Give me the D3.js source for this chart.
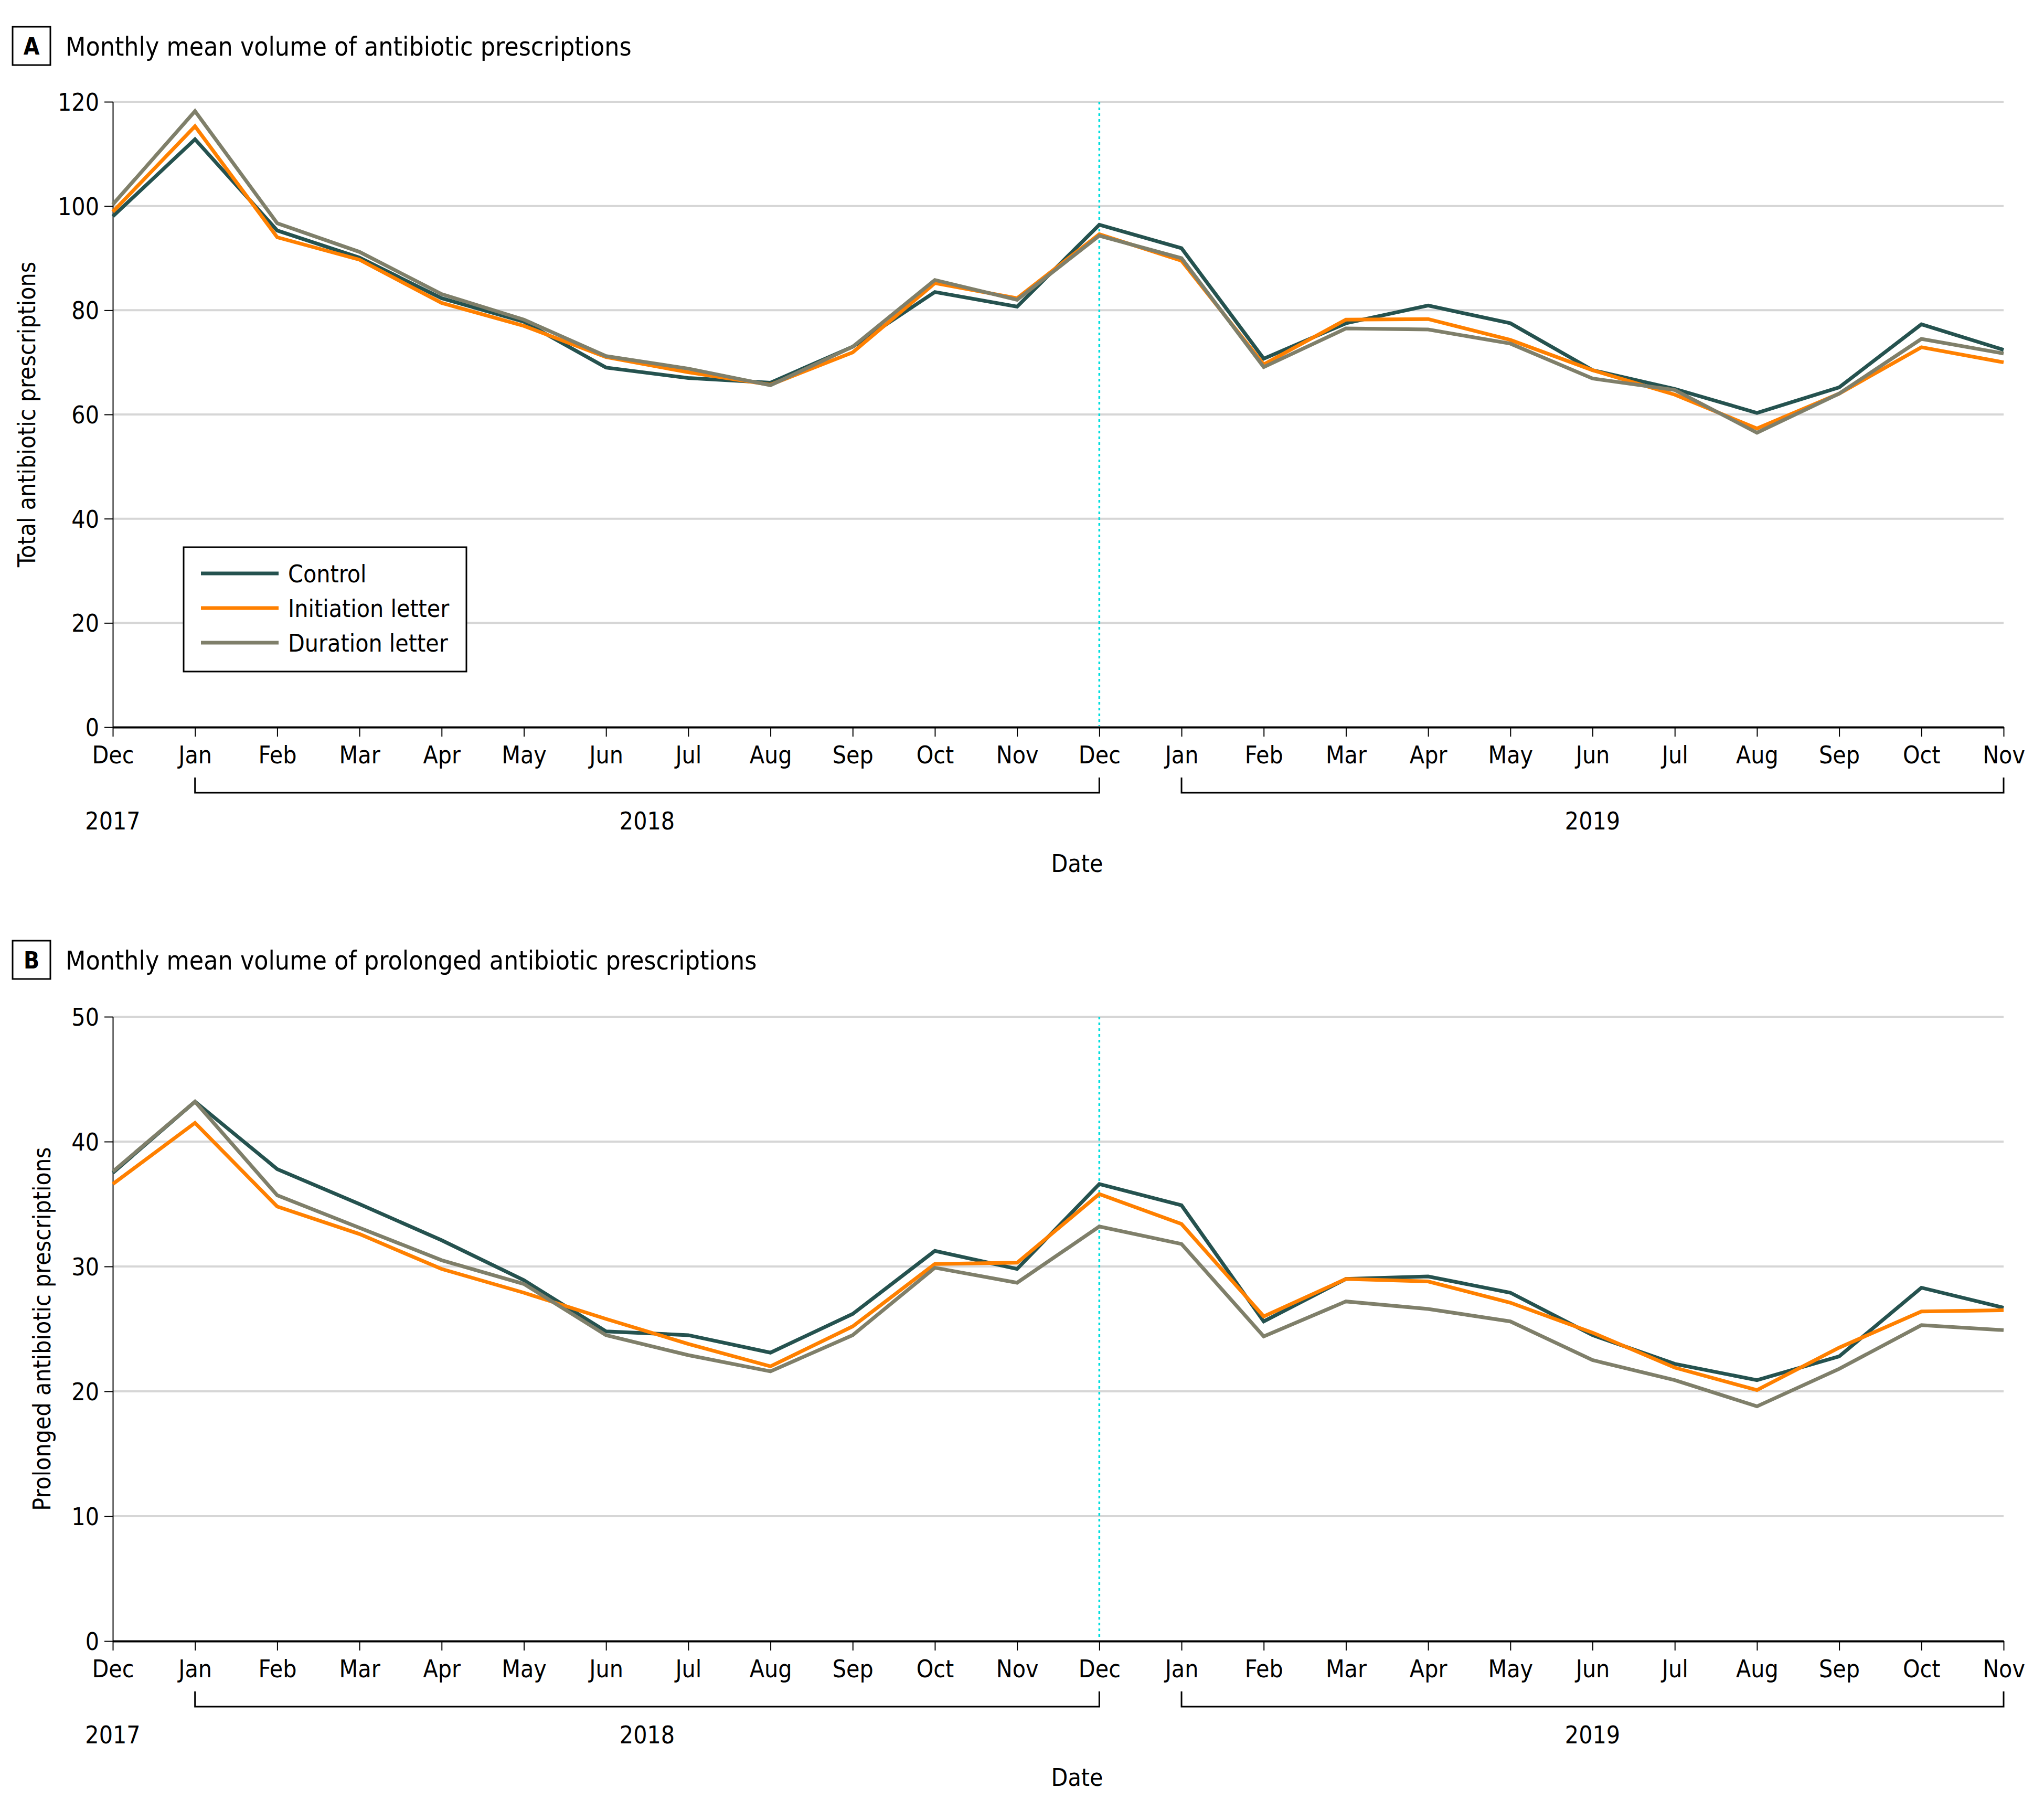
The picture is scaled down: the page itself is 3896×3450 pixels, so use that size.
<!DOCTYPE html>
<html>
<head>
<meta charset="utf-8">
<script src="https://cdn.jsdelivr.net/npm/d3@7/dist/d3.min.js"></script>
<style>
  html, body { margin: 0; padding: 0; background: #fff; }
  svg text { font-family: "Liberation Sans Narrow", "DejaVu Sans Condensed", "Open Sans", sans-serif; font-stretch: condensed; fill: #000; }
</style>
</head>
<body>
<svg id="chart" width="3896" height="3450"></svg>
<script>
// ---------- DATA ----------
const months = ["Dec","Jan","Feb","Mar","Apr","May","Jun","Jul","Aug","Sep","Oct","Nov",
                "Dec","Jan","Feb","Mar","Apr","May","Jun","Jul","Aug","Sep","Oct","Nov"];
const seriesNames = ["Control", "Initiation letter", "Duration letter"];
const seriesColors = ["#25524f", "#ff8000", "#7f7f6a"];

// Panel A: total antibiotic prescriptions
const totalControl    = [98.0,112.8,95.3,90.1,82.3,77.8,69.0,67.0,66.1,73.0,83.5,80.7,
                         96.4,91.9,70.7,77.5,80.9,77.5,68.5,64.9,60.3,65.2,77.3,72.4];
const totalInitiation = [98.9,115.3,94.0,89.7,81.4,77.0,71.0,68.1,65.7,71.9,85.2,82.3,
                         94.6,89.5,69.6,78.2,78.3,74.3,68.5,63.8,57.3,64.0,72.9,70.0];
const totalDuration   = [100.3,118.2,96.7,91.2,83.1,78.2,71.2,68.8,65.6,73.0,85.8,82.0,
                         94.3,90.0,69.1,76.5,76.3,73.6,66.9,64.7,56.5,64.0,74.5,71.7];

// Panel B: prolonged antibiotic prescriptions
const prolControl    = [37.5,43.2,37.8,35.0,32.1,28.9,24.8,24.5,23.1,26.2,31.25,29.8,
                        36.6,34.9,25.6,29.0,29.2,27.9,24.5,22.2,20.9,22.8,28.3,26.7];
const prolInitiation = [36.6,41.5,34.8,32.6,29.8,27.9,25.8,23.8,22.0,25.2,30.2,30.3,
                        35.8,33.4,26.0,29.0,28.8,27.1,24.7,21.9,20.1,23.5,26.4,26.5];
const prolDuration   = [37.6,43.2,35.7,33.1,30.5,28.6,24.5,22.9,21.6,24.5,29.9,28.7,
                        33.2,31.8,24.4,27.2,26.6,25.6,22.5,20.9,18.8,21.8,25.3,24.9];

const ticksA = [0,20,40,60,80,100,120];
const ticksB = [0,10,20,30,40,50];
const years = [
  {label: "2017", from: 0, to: 0, bracket: false},
  {label: "2018", from: 1, to: 12, bracket: true},
  {label: "2019", from: 13, to: 23, bracket: true}
];
const interventionIndex = 12;

// ---------- LAYOUT ----------
const svg = d3.select("#chart");
const left = 215, right = 3819;
const x = d3.scaleLinear().domain([0, months.length - 1]).range([left, right]);

const panels = [
  {letter: "A", title: "Monthly mean volume of antibiotic prescriptions",
   ytitle: "Total antibiotic prescriptions", top: 194, bottom: 1386, max: 120, ticks: ticksA,
   series: [totalControl, totalInitiation, totalDuration], boxY: 51, titleY: 106, ytitleX: 51, legend: true},
  {letter: "B", title: "Monthly mean volume of prolonged antibiotic prescriptions",
   ytitle: "Prolonged antibiotic prescriptions", top: 1938, bottom: 3128, max: 50, ticks: ticksB,
   series: [prolControl, prolInitiation, prolDuration], boxY: 1793, titleY: 1848, ytitleX: 80, legend: false}
];

const FS = 46;

panels.forEach(p => {
  const g = svg.append("g");
  const y = d3.scaleLinear().domain([0, p.max]).range([p.bottom, p.top]);

  // panel letter box + title
  g.append("rect").attr("x", 24).attr("y", p.boxY).attr("width", 72).attr("height", 73)
    .attr("fill", "#fff").attr("stroke", "#000").attr("stroke-width", 3);
  g.append("text").attr("x", 60).attr("y", p.boxY + 53).attr("text-anchor", "middle")
    .style("font-weight", "bold").style("font-size", "44px").text(p.letter);
  g.append("text").attr("x", 125).attr("y", p.titleY).style("font-size", "49.5px").text(p.title);

  // gridlines
  g.append("g").selectAll("line").data(p.ticks.filter(t => t > 0)).join("line")
    .attr("x1", left).attr("x2", right).attr("y1", d => y(d)).attr("y2", d => y(d))
    .attr("stroke", "#d6d6d6").attr("stroke-width", 4);

  // y axis
  const yAxis = g.append("g").attr("transform", `translate(${left},0)`)
    .call(d3.axisLeft(y).tickValues(p.ticks).tickSize(16).tickPadding(10).tickSizeOuter(0));
  yAxis.select(".domain").attr("stroke", "#000").attr("stroke-width", 2);
  yAxis.selectAll(".tick line").attr("stroke", "#000").attr("stroke-width", 2);
  yAxis.selectAll(".tick text").style("font-size", FS + "px").attr("dy", "0.36em");

  // x axis
  const xAxis = g.append("g").attr("transform", `translate(0,${p.bottom})`)
    .call(d3.axisBottom(x).tickValues(d3.range(months.length)).tickFormat(i => months[i])
      .tickSize(18).tickPadding(18).tickSizeOuter(0));
  xAxis.select(".domain").attr("stroke", "#000").attr("stroke-width", 4);
  xAxis.selectAll(".tick line").attr("stroke", "#000").attr("stroke-width", 2);
  xAxis.selectAll(".tick text").style("font-size", FS + "px");

  // year brackets
  years.forEach(yr => {
    if (yr.bracket) {
      const by = p.bottom + 125;
      g.append("path")
        .attr("d", `M${x(yr.from)},${by - 29}V${by}H${x(yr.to)}V${by - 29}`)
        .attr("fill", "none").attr("stroke", "#000").attr("stroke-width", 3);
    }
    g.append("text").attr("x", x((yr.from + yr.to) / 2)).attr("y", p.bottom + 195)
      .attr("text-anchor", "middle").style("font-size", FS + "px").text(yr.label);
  });
  g.append("text").attr("x", 2053).attr("y", p.bottom + 276)
    .attr("text-anchor", "middle").style("font-size", FS + "px").text("Date");

  // y title
  g.append("text").attr("transform", `translate(${p.ytitleX},${(p.top + p.bottom) / 2}) rotate(-90)`)
    .attr("text-anchor", "middle").attr("dy", "0.35em").style("font-size", FS + "px").text(p.ytitle);

  // intervention line
  g.append("line").attr("x1", x(interventionIndex)).attr("x2", x(interventionIndex))
    .attr("y1", p.top).attr("y2", p.bottom - 2)
    .attr("stroke", "#00dede").attr("stroke-width", 3.5).attr("stroke-dasharray", "5,6");

  // series lines
  const line = d3.line().x((d, i) => x(i)).y(d => y(d));
  p.series.forEach((s, k) => {
    g.append("path").datum(s).attr("d", line).attr("fill", "none")
      .attr("stroke", seriesColors[k]).attr("stroke-width", 7).attr("stroke-linejoin", "miter");
  });

  // legend
  if (p.legend) {
    const lg = g.append("g");
    lg.append("rect").attr("x", 350).attr("y", 1043).attr("width", 539).attr("height", 237)
      .attr("fill", "#fff").attr("stroke", "#000").attr("stroke-width", 3);
    seriesNames.forEach((n, k) => {
      const yy = 1093 + k * 66;
      lg.append("line").attr("x1", 383).attr("x2", 531).attr("y1", yy).attr("y2", yy)
        .attr("stroke", seriesColors[k]).attr("stroke-width", 7);
      lg.append("text").attr("x", 549).attr("y", yy).attr("dy", "0.36em")
        .style("font-size", FS + "px").text(n);
    });
  }
});
</script>
</body>
</html>
